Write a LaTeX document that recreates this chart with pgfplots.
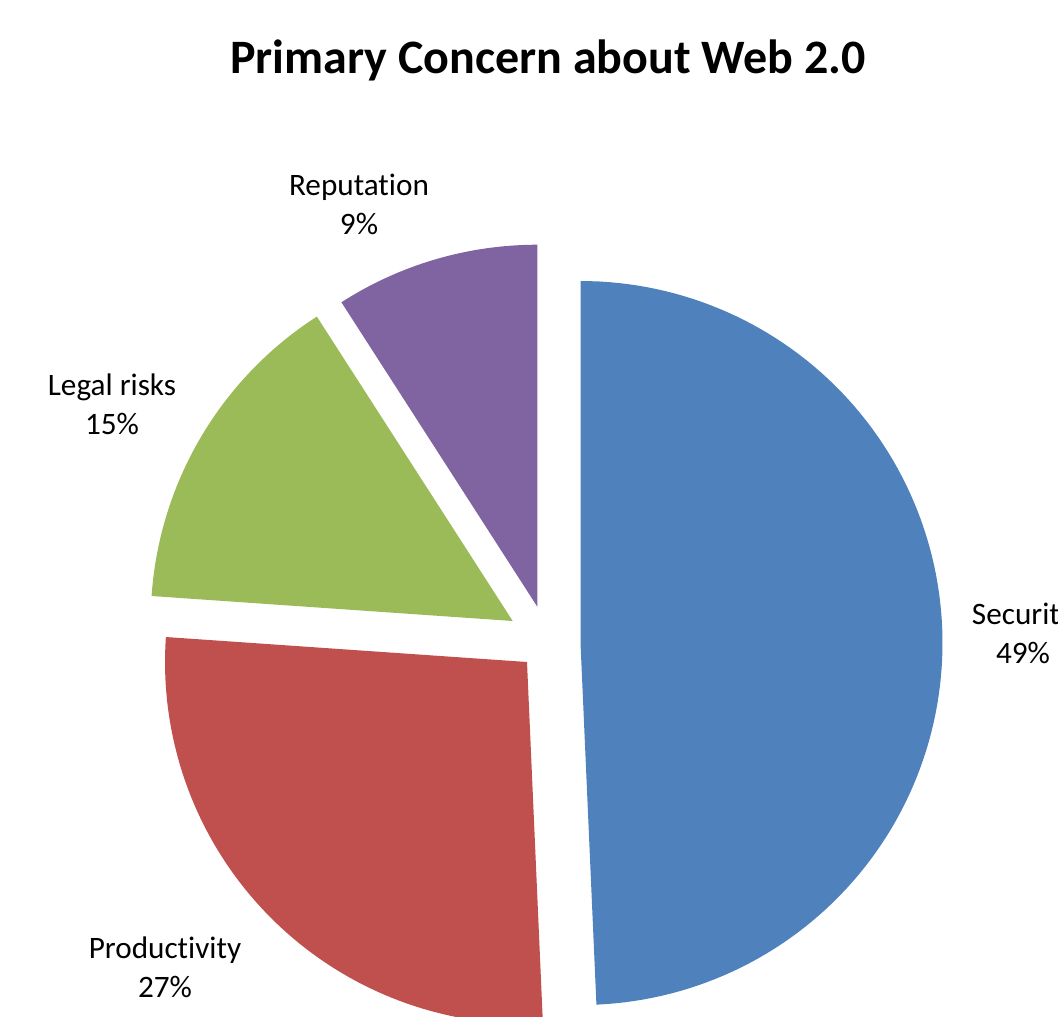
\documentclass[border=0pt]{standalone}
\usepackage{pgfplots}
\pgfplotsset{compat=1.18}
\usepackage{fontspec}
\setmainfont{Carlito}[Ligatures={NoCommon}]
\definecolor{cSec}{HTML}{4F81BD}
\definecolor{cProd}{HTML}{C0504D}
\definecolor{cLeg}{HTML}{9BBB59}
\definecolor{cRep}{HTML}{8064A2}
% shares in percent
\def\vSec{49.3}
\def\vProd{26.8}
\def\vLeg{14.8}
\def\vRep{9.1}
\pgfmathsetmacro{\aA}{90}
\pgfmathsetmacro{\aB}{\aA-3.6*\vSec}
\pgfmathsetmacro{\aC}{\aB-3.6*\vProd}
\pgfmathsetmacro{\aD}{\aC-3.6*\vLeg}
\pgfmathsetmacro{\aE}{\aD-3.6*\vRep}
\def\R{362}
\begin{document}
\begin{tikzpicture}
\begin{axis}[
  at={(0,0)}, anchor=south west,
  scale only axis, width=264.5pt, height=254pt,
  xmin=0, xmax=1058, ymin=0, ymax=1016, y dir=reverse,
  hide axis, clip=false,
  trig format plots=deg,
]
% Security
\addplot[draw=none, fill=cSec, domain=\aA:\aB, samples=120, variable=\t]
  ({580.5+\R*cos(\t)}, {643-\R*sin(\t)}) -- (axis cs:580.5,643) -- cycle;
% Productivity
\addplot[draw=none, fill=cProd, domain=\aB:\aC, samples=80, variable=\t]
  ({527+\R*cos(\t)}, {662-\R*sin(\t)}) -- (axis cs:527,662) -- cycle;
% Legal risks
\addplot[draw=none, fill=cLeg, domain=\aC:\aD, samples=60, variable=\t]
  ({512.7+\R*cos(\t)}, {621-\R*sin(\t)}) -- (axis cs:512.7,621) -- cycle;
% Reputation
\addplot[draw=none, fill=cRep, domain=\aD:\aE, samples=40, variable=\t]
  ({537.3+\R*cos(\t)}, {606.7-\R*sin(\t)}) -- (axis cs:537.3,606.7) -- cycle;

\node[font=\fontsize{12}{14}\selectfont\bfseries] at (axis cs:548,60) {Primary Concern about Web 2.0};
\node[align=center, font=\fontsize{7.8}{9.75}\selectfont] at (axis cs:359,204) {Reputation\\9\%};
\node[align=center, font=\fontsize{7.8}{9.75}\selectfont] at (axis cs:112,404) {Legal risks\\15\%};
\node[align=center, font=\fontsize{7.8}{9.75}\selectfont] at (axis cs:165,967) {Productivity\\27\%};
\node[align=center, font=\fontsize{7.8}{9.75}\selectfont] at (axis cs:1023,633) {Security\\49\%};
\end{axis}
\pgfresetboundingbox
\path[use as bounding box] (0,0) rectangle (264.5pt,254pt);
\end{tikzpicture}
\end{document}
